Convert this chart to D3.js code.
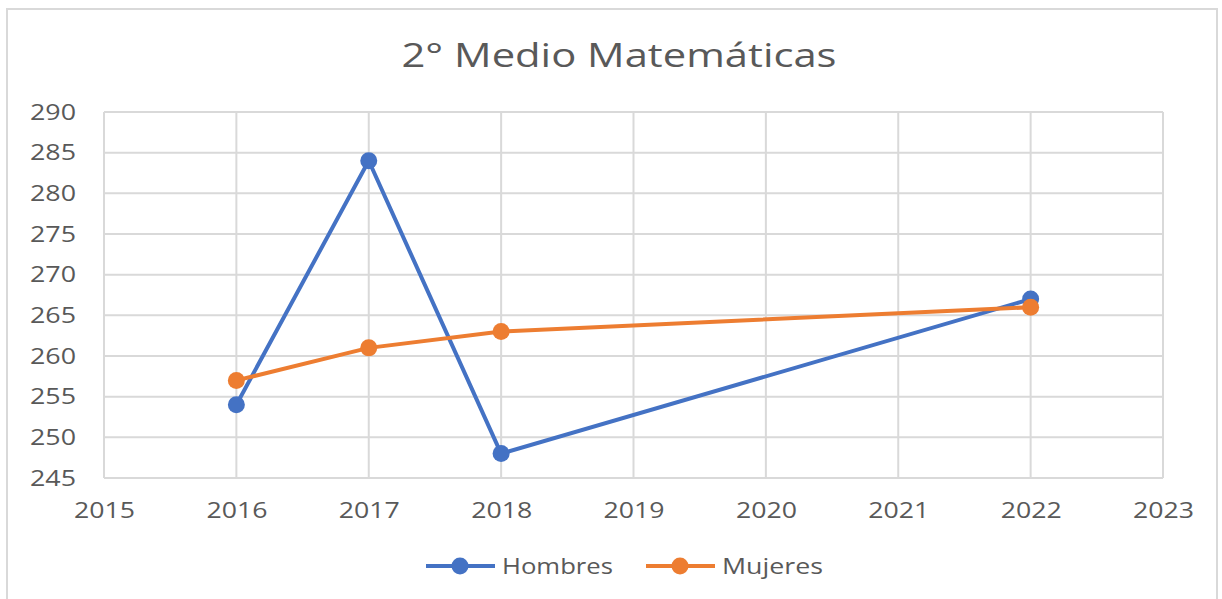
<!DOCTYPE html>
<html>
<head>
<meta charset="utf-8">
<script src="https://cdn.jsdelivr.net/npm/d3@7"></script>
<style>
  body { margin: 0; background: #fff; }
  svg { display: block; font-family: "Open Sans", "Noto Sans", sans-serif; }
</style>
</head>
<body>
<div id="chart"></div>
<script>
// Chart data
const years = [2016, 2017, 2018, 2022];
const hombres = [254, 284, 248, 267];
const mujeres = [257, 261, 263, 266];
const xTicks = [2015, 2016, 2017, 2018, 2019, 2020, 2021, 2022, 2023];
const yTicks = [245, 250, 255, 260, 265, 270, 275, 280, 285, 290];

const series = [
    { name: 'Hombres', values: hombres, color: '#4472C4', textWidth: 111 },
    { name: 'Mujeres', values: mujeres, color: '#ED7D31', textWidth: 101 },
];

const width = 1222, height = 599;
const plot = { left: 104, right: 1163, top: 112, bottom: 478 };

const svg = d3.select('#chart').append('svg')
    .attr('width', width)
    .attr('height', height);

// Chart frame
svg.append('rect')
    .attr('x', 7).attr('y', 9)
    .attr('width', 1210).attr('height', 620)
    .attr('fill', 'none')
    .attr('stroke', '#d9d9d9')
    .attr('stroke-width', 2);

const x = d3.scaleLinear().domain([2015, 2023]).range([plot.left, plot.right]);
const y = d3.scaleLinear().domain([245, 290]).range([plot.bottom, plot.top]);

// Title (reference text is horizontally stretched, so fix its length)
svg.append('text')
    .attr('x', 619).attr('y', 67)
    .attr('text-anchor', 'middle')
    .attr('font-size', '32px')
    .attr('fill', '#595959')
    .attr('textLength', 435)
    .attr('lengthAdjust', 'spacingAndGlyphs')
    .text('2° Medio Matemáticas');

// Gridlines
const grid = svg.append('g').attr('stroke', '#d9d9d9').attr('stroke-width', 2);
grid.selectAll('line.h').data(yTicks).join('line')
    .attr('class', 'h')
    .attr('x1', plot.left).attr('x2', plot.right)
    .attr('y1', d => y(d)).attr('y2', d => y(d));
grid.selectAll('line.v').data(xTicks).join('line')
    .attr('class', 'v')
    .attr('y1', plot.top).attr('y2', plot.bottom)
    .attr('x1', d => x(d)).attr('x2', d => x(d));

// Axes (labels only, Excel style)
const yAxis = svg.append('g')
    .attr('transform', `translate(${plot.left},0)`)
    .call(d3.axisLeft(y).tickValues(yTicks).tickSize(0).tickPadding(28));
const xAxis = svg.append('g')
    .attr('transform', `translate(0,${plot.bottom})`)
    .call(d3.axisBottom(x).tickValues(xTicks).tickFormat(d3.format('d')).tickSize(0).tickPadding(24));
yAxis.selectAll('text').attr('textLength', 46);
xAxis.selectAll('text').attr('textLength', 61);
[yAxis, xAxis].forEach(a => {
    a.select('.domain').remove();
    a.selectAll('text')
        .attr('font-size', '22px')
        .attr('fill', '#595959')
        .attr('lengthAdjust', 'spacingAndGlyphs')
        .attr('font-family', '"Open Sans", "Noto Sans", sans-serif');
});

// Lines and markers
const line = d3.line()
    .x((d, i) => x(years[i]))
    .y(d => y(d));

series.forEach(s => {
    svg.append('path')
        .datum(s.values)
        .attr('fill', 'none')
        .attr('stroke', s.color)
        .attr('stroke-width', 4)
        .attr('stroke-linejoin', 'round')
        .attr('d', line);

    svg.append('g').selectAll('circle')
        .data(s.values)
        .join('circle')
        .attr('cx', (d, i) => x(years[i]))
        .attr('cy', d => y(d))
        .attr('r', 8.5)
        .attr('fill', s.color);
});

// Legend
const legend = svg.append('g').attr('transform', 'translate(426,566)');
const item = legend.selectAll('g').data(series).join('g')
    .attr('transform', (d, i) => `translate(${i * 220},0)`);
item.append('line')
    .attr('x1', 0).attr('x2', 69)
    .attr('stroke', d => d.color)
    .attr('stroke-width', 4);
item.append('circle')
    .attr('cx', 34).attr('r', 8.5)
    .attr('fill', d => d.color);
item.append('text')
    .attr('x', 76).attr('dy', '0.35em')
    .attr('font-size', '22px')
    .attr('fill', '#595959')
    .attr('textLength', d => d.textWidth)
    .attr('lengthAdjust', 'spacingAndGlyphs')
    .text(d => d.name);
</script>
</body>
</html>
